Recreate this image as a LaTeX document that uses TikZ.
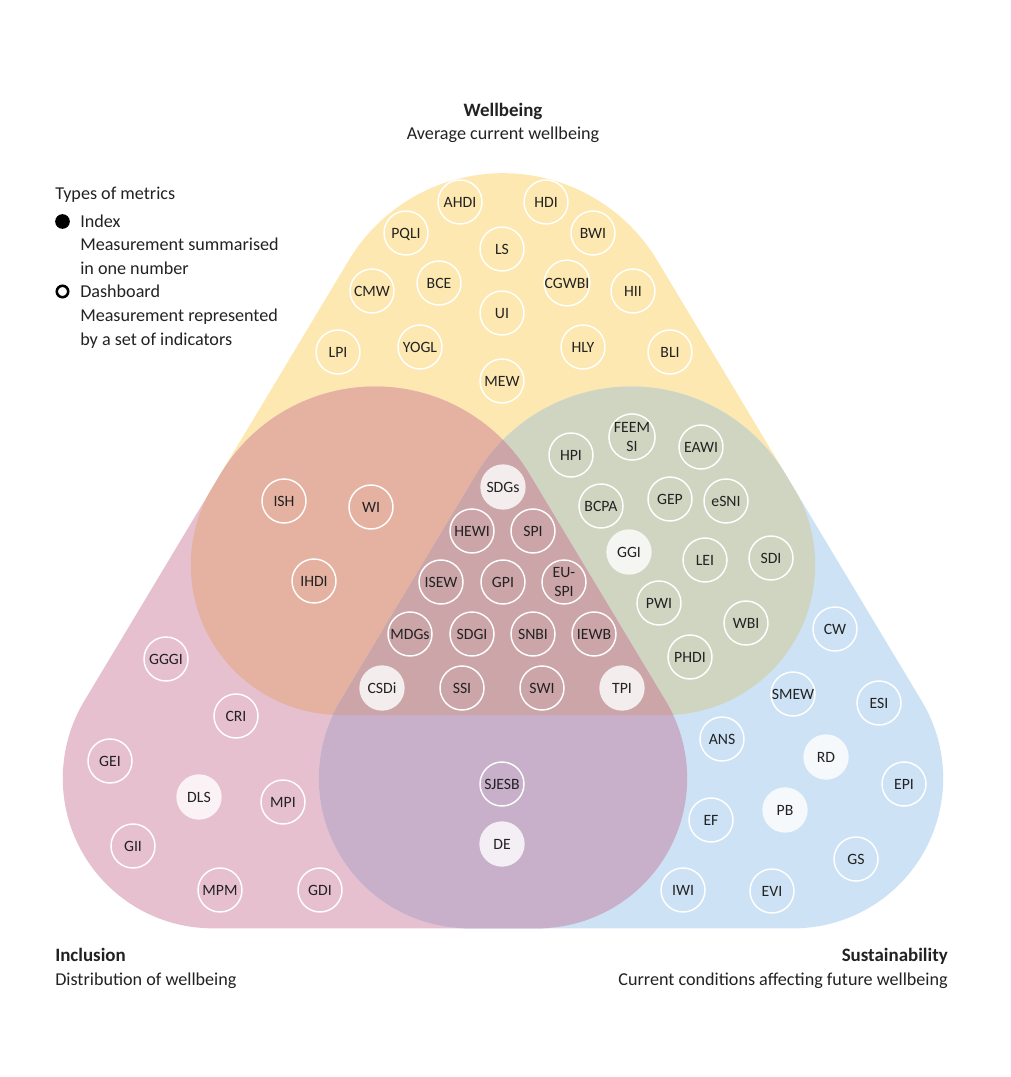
\documentclass[tikz,border=0pt]{standalone}
\usepackage{fontspec}
\setmainfont{Carlito}
\definecolor{cY}{HTML}{FCE8B0}
\definecolor{cP}{HTML}{E6C0CF}
\definecolor{cB}{HTML}{CDE2F4}
\definecolor{cR}{HTML}{E5B1A0}
\definecolor{cG}{HTML}{D0D5C1}
\definecolor{cPu}{HTML}{C8B0CA}
\definecolor{cM}{HTML}{CBA5A8}
\definecolor{txtc}{HTML}{222222}
\begin{document}
\begin{tikzpicture}[x=0.75pt,y=-0.75pt,
  mbase/.style={circle, inner sep=0pt, text=txtc, font=\fontsize{11.8}{14}\selectfont},
  mring/.style={mbase, draw=white, line width=1.1pt, minimum size=33pt, text height=7.6pt, text depth=0pt},
  mdisc/.style={mbase, fill=white, fill opacity=0.8, text opacity=1, minimum size=34pt, text height=7.6pt, text depth=0pt},
  mtwo/.style={mbase, draw=white, line width=1.1pt, minimum size=33pt, align=center},
  lbl/.style={font=\fontsize{13.6}{16}\selectfont, text=txtc, inner sep=0pt},
  ttl/.style={font=\bfseries\fontsize{14.2}{16}\selectfont, text=txtc, inner sep=0pt},
  shI/.style={shift={(-128,213.33)}},
  shS/.style={shift={(128,213.33)}}
]
\def\Wshape{(348.6,260.6) arc[start angle=210.96, end angle=329.04, radius=180] -- (793.8,487.9) arc[start angle=-30.95, end angle=90, radius=150] -- (340.8,715) arc[start angle=90, end angle=210.95, radius=150] -- cycle}
\useasboundingbox (0,0) rectangle (1010,1077);
\fill[white] (0,0) rectangle (1010,1077);
% main shapes
\fill[cY] \Wshape;
\fill[cP, shI] \Wshape;
\fill[cB, shS] \Wshape;
\begin{scope}
  \clip \Wshape;
  \fill[cR, shI] \Wshape;
  \fill[cG, shS] \Wshape;
\end{scope}
\begin{scope}
  \clip[shI] \Wshape;
  \fill[cPu, shS] \Wshape;
\end{scope}
\begin{scope}
  \clip \Wshape;
  \clip[shI] \Wshape;
  \fill[cM, shS] \Wshape;
\end{scope}
% titles
\node[ttl, anchor=base] (tW) at (503,117) {Wellbeing};
\node[lbl, anchor=base] (sW) at (503,140) {Average current wellbeing};
\node[ttl, anchor=base west] (tI) at (55,961) {Inclusion};
\node[lbl, anchor=base west] (sI) at (55,985) {Distribution of wellbeing};
\node[ttl, anchor=base east] (tS) at (948,961) {Sustainability};
\node[lbl, anchor=base east] (sS) at (948,985) {Current conditions affecting future wellbeing};
% legend
\node[lbl, anchor=base west] (lg0) at (55,199) {Types of metrics};
\node[circle, fill=black, minimum size=11pt, inner sep=0pt] (lgb1) at (62.5,221.5) {};
\node[lbl, anchor=base west] (lg1) at (80,227) {Index};
\node[lbl, anchor=base west] (lg2) at (80,250) {Measurement summarised};
\node[lbl, anchor=base west] (lg3) at (80,274) {in one number};
\node[circle, draw=black, line width=1.9pt, minimum size=8.6pt, inner sep=0pt] (lgb2) at (62.5,291.5) {};
\node[lbl, anchor=base west] (lg4) at (80,297) {Dashboard};
\node[lbl, anchor=base west] (lg5) at (80,321) {Measurement represented};
\node[lbl, anchor=base west] (lg6) at (80,345) {by a set of indicators};
% Wellbeing
\node[mring] (AHDI) at (460,202) {AHDI};
\node[mring] (HDI) at (546,202) {HDI};
\node[mring] (PQLI) at (406,233) {PQLI};
\node[mring] (BWI) at (593,233) {BWI};
\node[mring] (LS) at (502,249) {LS};
\node[mring] (CMW) at (372,291) {CMW};
\node[mring] (BCE) at (439,283) {BCE};
\node[mring] (CGWBI) at (567,283) {CGWBI};
\node[mring] (HII) at (633,291) {HII};
\node[mring] (UI) at (502,313) {UI};
\node[mring] (LPI) at (338,352) {LPI};
\node[mring] (YOGL) at (420,347) {YOGL};
\node[mring] (HLY) at (583,347) {HLY};
\node[mring] (BLI) at (670,352) {BLI};
\node[mring] (MEW) at (502,381) {MEW};
% Wellbeing & Inclusion
\node[mring] (ISH) at (284,501) {ISH};
\node[mring] (WI) at (371,507) {WI};
\node[mring] (IHDI) at (314,581) {IHDI};
% Wellbeing & Sustainability
\node[mring] (HPI) at (571,455) {HPI};
\node[mtwo] (FEEMSI) at (632,437) {FEEM\\SI};
\node[mring] (EAWI) at (701,447) {EAWI};
\node[mring] (BCPA) at (601,506) {BCPA};
\node[mring] (GEP) at (670,499) {GEP};
\node[mring] (eSNI) at (726,501) {eSNI};
\node[mdisc] (GGI) at (629,552) {GGI};
\node[mring] (LEI) at (705,560) {LEI};
\node[mring] (SDI) at (771,558) {SDI};
\node[mring] (PWI) at (659,603) {PWI};
\node[mring] (WBI) at (746,623) {WBI};
\node[mring] (PHDI) at (690,657) {PHDI};
% all three
\node[mdisc] (SDGs) at (503,487) {SDGs};
\node[mring] (HEWI) at (472,531) {HEWI};
\node[mring] (SPI) at (533,531) {SPI};
\node[mring] (ISEW) at (441,582) {ISEW};
\node[mring] (GPI) at (503,582) {GPI};
\node[mtwo] (EUSPI) at (564,582) {EU-\\SPI};
\node[mring] (MDGs) at (410,634) {MDGs};
\node[mring] (SDGI) at (472,634) {SDGI};
\node[mring] (SNBI) at (533,634) {SNBI};
\node[mring] (IEWB) at (594,634) {IEWB};
\node[mdisc] (CSDi) at (382,688) {CSDi};
\node[mring] (SSI) at (462,688) {SSI};
\node[mring] (SWI) at (542,688) {SWI};
\node[mdisc] (TPI) at (622,688) {TPI};
% Inclusion
\node[mring] (GGGI) at (166,659) {GGGI};
\node[mring] (CRI) at (236,716) {CRI};
\node[mring] (GEI) at (110,761) {GEI};
\node[mdisc] (DLS) at (199,797) {DLS};
\node[mring] (MPI) at (283,802) {MPI};
\node[mring] (GII) at (133,846) {GII};
\node[mring] (MPM) at (220,890) {MPM};
\node[mring] (GDI) at (320,890) {GDI};
% Inclusion & Sustainability
\node[mring] (SJESB) at (502,784) {SJESB};
\node[mdisc] (DE) at (502,844) {DE};
% Sustainability
\node[mring] (CW) at (835,629) {CW};
\node[mring] (SMEW) at (793,694) {SMEW};
\node[mring] (ESI) at (879,703) {ESI};
\node[mring] (ANS) at (722,739) {ANS};
\node[mdisc] (RD) at (826,757) {RD};
\node[mring] (EPI) at (904,784) {EPI};
\node[mring] (EF) at (711,820) {EF};
\node[mdisc] (PB) at (785,810) {PB};
\node[mring] (GS) at (856,859) {GS};
\node[mring] (IWI) at (683,890) {IWI};
\node[mring] (EVI) at (772,891) {EVI};
\end{tikzpicture}
\end{document}
